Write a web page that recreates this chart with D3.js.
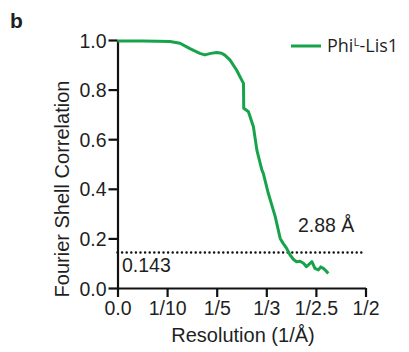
<!DOCTYPE html>
<html><head><meta charset="utf-8">
<script src="https://cdn.jsdelivr.net/npm/d3@7"></script>
<style>
body{margin:0;background:#fff;}
text{font-family:"Liberation Sans",Arial,sans-serif;fill:#1f1f1f;}
</style></head>
<body><svg id="c" width="409" height="352"></svg>
<script>
const resolution = [0.0,0.02,0.05,0.08,0.106,0.126,0.146,0.166,0.176,0.188,0.2,0.21,0.217,0.227,0.240,0.250,0.254,0.2545,0.264,0.274,0.281,0.291,0.294,0.304,0.318,0.328,0.334,0.341,0.348,0.355,0.361,0.368,0.375,0.381,0.386,0.392,0.398,0.405,0.41,0.415,0.42,0.425];
const fsc = [0.996,0.996,0.996,0.995,0.994,0.987,0.965,0.946,0.940,0.946,0.950,0.947,0.938,0.919,0.879,0.840,0.825,0.725,0.711,0.650,0.556,0.476,0.462,0.382,0.288,0.200,0.18,0.16,0.133,0.115,0.106,0.108,0.100,0.086,0.095,0.106,0.079,0.073,0.085,0.079,0.07,0.059];
const xTicks = [0,0.1,0.2,0.3,0.4,0.5];
const xTickLabels = ["0.0","1/10","1/5","1/3","1/2.5","1/2"];
const yTicks = [0,0.2,0.4,0.6,0.8,1.0];
const threshold = 0.143;
const seriesName = "Phi";
const seriesSup = "L";
const seriesRest = "-Lis1";
const resLabel = "2.88 Å";

const svg = d3.select("#c");
const x = d3.scaleLinear().domain([0,0.5]).range([117.5,365.5]);
const y = d3.scaleLinear().domain([0,1]).range([288,40]);
const green = "#17a34a";
const fs = "19.5px";
const tfs = "20px";

svg.append("text").attr("x",10).attr("y",28).style("font-weight","bold").style("font-size","21px").text("b");

const xa = svg.append("g").attr("transform","translate(0,288)")
  .call(d3.axisBottom(x).tickValues(xTicks).tickFormat((d,i)=>xTickLabels[i]).tickSize(9).tickSizeOuter(0));
const ya = svg.append("g").attr("transform","translate(117.5,0)")
  .call(d3.axisLeft(y).tickValues(yTicks).tickFormat(d3.format(".1f")).tickSize(9).tickSizeOuter(0));
[xa,ya].forEach(a=>{
  a.select(".domain").attr("stroke","#111").attr("stroke-width",2.2);
  a.selectAll(".tick line").attr("stroke","#111").attr("stroke-width",2.2);
  a.selectAll(".tick text").style("font-size",fs).attr("fill","#1f1f1f").style("font-family","'Liberation Sans',Arial,sans-serif");
});
xa.selectAll(".tick text").attr("y",12).attr("dy","0.75em");
ya.selectAll(".tick text").attr("x",-11).attr("dy","0.36em");

svg.append("text").attr("x",243).attr("y",342).attr("text-anchor","middle").style("font-size",tfs).text("Resolution (1/Å)");
svg.append("text").attr("transform","translate(69,189) rotate(-90)").attr("text-anchor","middle").style("font-size",tfs).text("Fourier Shell Correlation");

svg.append("line").attr("x1",x(0)).attr("x2",x(0.5)).attr("y1",y(threshold)).attr("y2",y(threshold))
  .attr("stroke","#111").attr("stroke-width",2.5).attr("stroke-dasharray","0,4.6").attr("stroke-linecap","round");
svg.append("text").attr("x",122).attr("y",272).style("font-size",fs).text(String(threshold));
svg.append("text").attr("x",298).attr("y",232).style("font-size",fs).text(resLabel);

const line = d3.line().x((d,i)=>x(resolution[i])).y(d=>y(d));
svg.append("path").datum(fsc).attr("d",line).attr("fill","none").attr("stroke",green).attr("stroke-width",3).attr("stroke-linejoin","round");

svg.append("line").attr("x1",291).attr("x2",321).attr("y1",46).attr("y2",46).attr("stroke",green).attr("stroke-width",3);
const lt = svg.append("text").attr("x",327).attr("y",52).style("font-family","'Open Sans',sans-serif").style("font-size","18px");
lt.append("tspan").text(seriesName);
lt.append("tspan").attr("dy",-6).style("font-size","11.5px").text(seriesSup);
lt.append("tspan").attr("dy",6).text(seriesRest);
</script></body></html>
